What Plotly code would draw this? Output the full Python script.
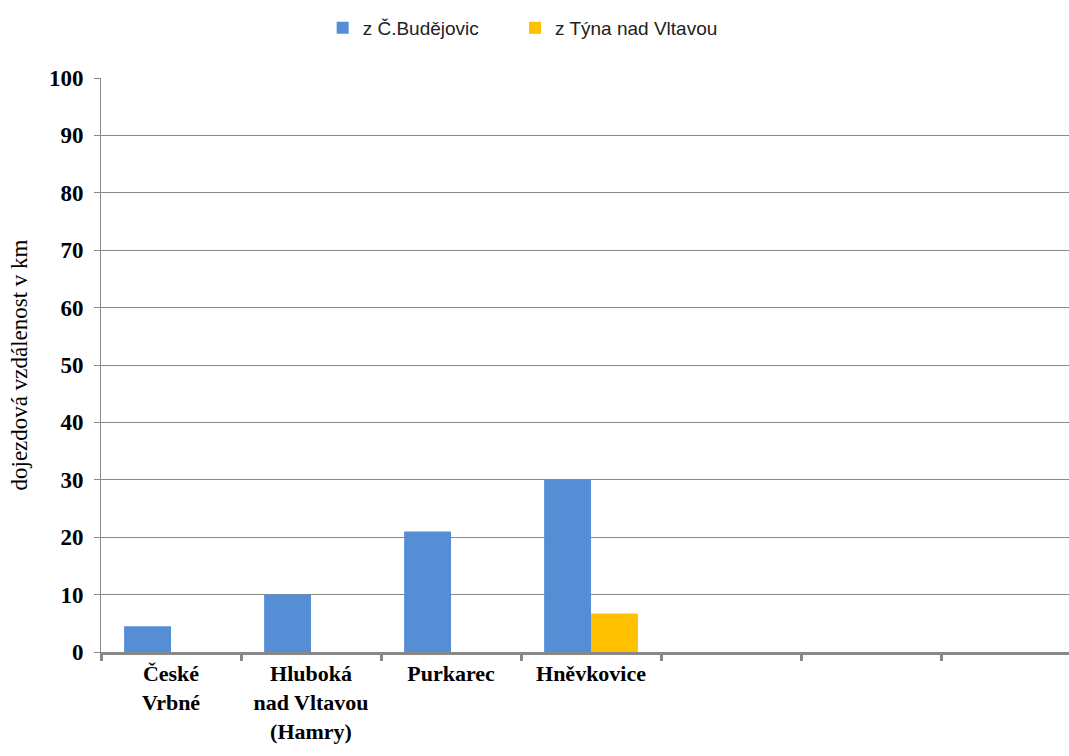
import plotly.graph_objects as go

categories = ["České<br>Vrbné", "Hluboká<br>nad Vltavou<br>(Hamry)", "Purkarec", "Hněvkovice", " ", "  ", "   "]
cb_values = [4.5, 10, 21, 30, None, None, None]
tyn_values = [None, None, None, 6.7, None, None, None]
series_names = ["z Č.Budějovic", "z Týna nad Vltavou"]
y_ticks = [0, 10, 20, 30, 40, 50, 60, 70, 80, 90, 100]

fig = go.Figure()
fig.add_trace(go.Bar(x=categories, y=cb_values, name=series_names[0], legend="legend",
                     marker=dict(color="#558ED5", line=dict(width=0))))
fig.add_trace(go.Bar(x=categories, y=tyn_values, name=series_names[1], legend="legend2",
                     marker=dict(color="#FFC000", line=dict(width=0))))

legend_font = dict(family="Liberation Sans", size=19, color="#222")

fig.update_layout(
    width=1069, height=756,
    margin=dict(l=101, r=0, t=78, b=104),
    paper_bgcolor="white", plot_bgcolor="white",
    barmode="group", bargap=0.33, bargroupgap=0,
    showlegend=True,
    legend=dict(orientation="h", x=0.229, xanchor="left", y=1.054, yanchor="bottom",
                font=legend_font, itemwidth=30),
    legend2=dict(orientation="h", x=0.4277, xanchor="left", y=1.054, yanchor="bottom",
                 font=legend_font, itemwidth=30),
    xaxis=dict(
        type="category", range=[-0.5, 6.414], tickson="boundaries",
        ticks="outside", ticklen=6, tickwidth=3, tickcolor="#888888",
        showline=True, linecolor="#888888", linewidth=3,
        showgrid=False,
        tickfont=dict(family="Liberation Serif", size=22, color="black", weight="bold"),
    ),
    yaxis=dict(
        range=[0, 100], tickvals=y_ticks,
        ticks="outside", ticklen=6, tickcolor="#888888",
        showline=True, linecolor="#888888", linewidth=1,
        showgrid=True, gridcolor="#888888", gridwidth=1,
        zeroline=False, ticklabelstandoff=6,
        tickfont=dict(family="Liberation Serif", size=23, color="black", weight="bold"),
        title=dict(text="dojezdová vzdálenost v km", font=dict(family="Liberation Serif", size=23, color="black"), standoff=14),
    ),
)
fig.write_html("out.html")
